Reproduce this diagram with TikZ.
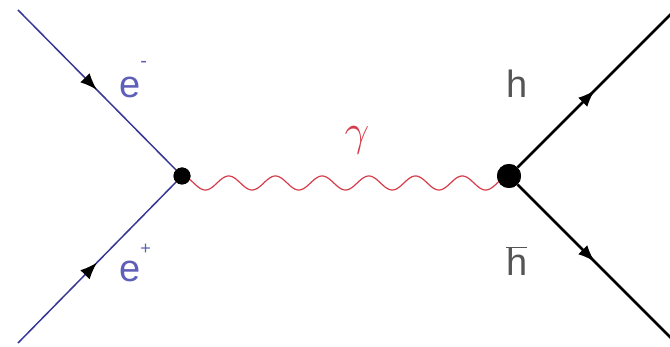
\documentclass[tikz,border=0pt]{standalone}
\usepackage{fix-cm}
\usepackage{fontspec}
\setmainfont{Liberation Sans}
\usetikzlibrary{arrows.meta,decorations.markings,calc}
\definecolor{eline}{RGB}{55,55,150}
\definecolor{etext}{RGB}{95,95,185}
\definecolor{htext}{RGB}{85,85,85}
\definecolor{phot}{RGB}{215,60,75}
\begin{document}
\begin{tikzpicture}[x=1pt,y=-1pt,
  vert/.style={circle,fill=black,inner sep=0pt},
  midarrow/.style={postaction={decorate},decoration={markings,
     mark=at position 0.5 with {\arrow[black]{Latex[length=17pt,width=13pt]}}}},
  fermL/.style={draw=eline,line width=1.5pt,midarrow},
  fermR/.style={draw=black,line width=2.5pt,midarrow},
  photon/.style={draw=phot,line width=1.2pt},
  lab/.style={font=\fontsize{38}{40}\selectfont,inner sep=0pt}]
\useasboundingbox (0,0) rectangle (670,347);
\node[vert,minimum size=17pt] (v1) at (182,176) {};
\node[vert,minimum size=24pt] (v2) at (509,176) {};
\coordinate (a1) at (18,10);
\coordinate (a2) at (18,343);
\coordinate (b1) at (672,13);
\coordinate (b2) at (672,339);
\draw[fermL] (a1) -- (v1);
\draw[fermL] (a2) -- (v1);
\draw[fermR] (v2) -- (b1);
\draw[fermR] (v2) -- (b2);
\draw[photon] let \p1=(v1), \p2=(v2) in
  plot[variable=\t,domain=0:1,samples=400,smooth]
  ({\x1+(\x2-\x1)*\t},{\y1-7pt+7pt*cos(7*360*\t)});
\node[vert,minimum size=17pt] at (v1) {};
\node[vert,minimum size=24pt] at (v2) {};
\node[lab,text=etext,anchor=base west] (em) at (119,98) {e\raisebox{0.8em}{\fontsize{20}{20}\selectfont -}};
\node[lab,text=etext,anchor=base west] (ep) at (119,282) {e\raisebox{0.72em}{\fontsize{18}{18}\selectfont +}};
\node[lab,text=htext,anchor=base west] (h) at (506,98) {h};
\node[lab,text=htext,anchor=base west] (hb) at (506,276) {$\overline{\mbox{h}}$};
\node[text=phot,inner sep=0pt,anchor=center,font=\fontsize{44}{46}\selectfont] (g) at (357,140) {$\gamma$};
\end{tikzpicture}
\end{document}
